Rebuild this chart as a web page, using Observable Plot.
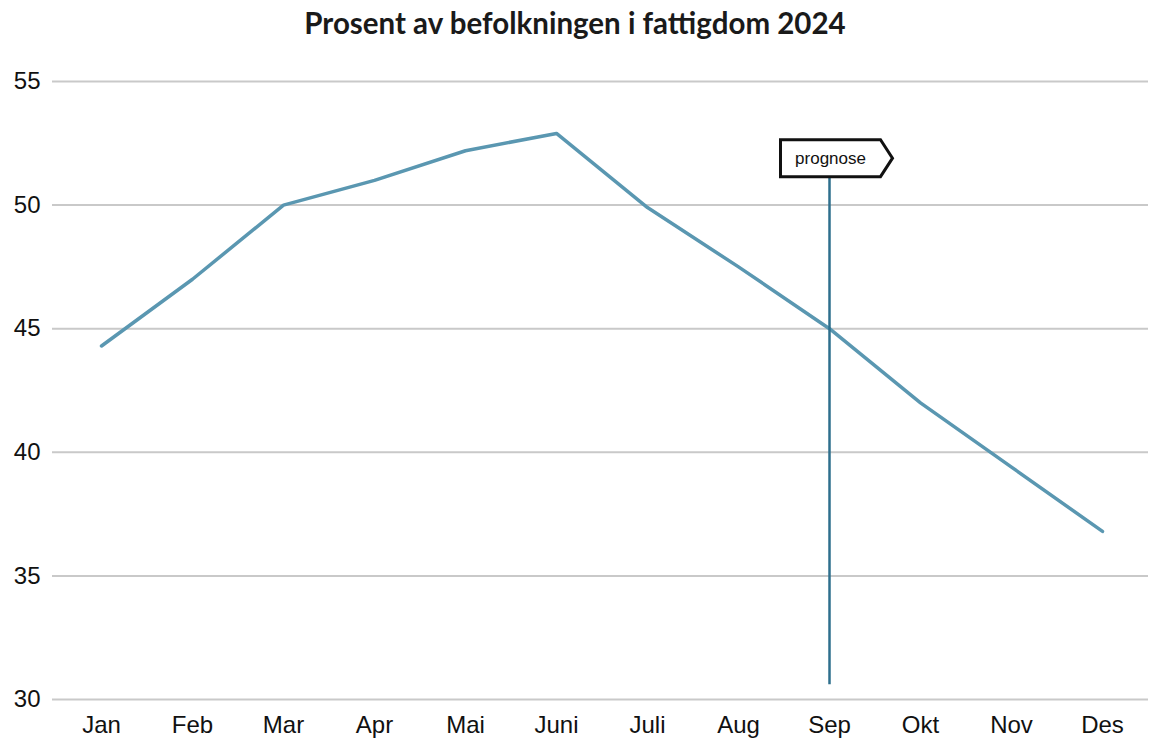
<!DOCTYPE html>
<html>
<head>
<meta charset="utf-8">
<script src="https://cdn.jsdelivr.net/npm/d3@7"></script>
<script src="https://cdn.jsdelivr.net/npm/@observablehq/plot@0.6"></script>
<style>
  html, body { margin: 0; padding: 0; background: #fff; }
  #title { height: 50px; line-height: 46px; text-align: center; font-family: Lato, "Open Sans", sans-serif; font-weight: 700; font-size: 29.5px; color: #1a1a1a; }
  #chart svg { display: block; }
</style>
</head>
<body>
<div id="title">Prosent av befolkningen i fattigdom 2024</div>
<div id="chart"></div>
<script>
const months = ["Jan","Feb","Mar","Apr","Mai","Juni","Juli","Aug","Sep","Okt","Nov","Des"];
const values = [44.3, 47.0, 50.0, 51.0, 52.2, 52.9, 49.9, 47.5, 45.0, 42.0, 39.4, 36.8];
const yTicks = [30, 35, 40, 45, 50, 55];
const forecastMonth = "Sep";
const forecastLabel = "prognose";
const forecastLine = {y1: 30.6, y2: 51.2};
const forecastLabelY = 51.9;

const data = months.map((m, i) => ({month: m, value: values[i]}));

const arrowSymbol = {
  draw(ctx) {
    ctx.moveTo(-49, -18.5);
    ctx.lineTo(51, -18.5);
    ctx.lineTo(63, 0);
    ctx.lineTo(51, 18.5);
    ctx.lineTo(-49, 18.5);
    ctx.closePath();
  }
};

const chart = Plot.plot({
  width: 1150,
  height: 690,
  marginTop: 31,
  marginBottom: 41,
  marginLeft: 52,
  marginRight: 2,
  style: {fontFamily: "'Liberation Sans', Arial, sans-serif", fontSize: "24px", color: "#111", background: "#fff"},
  x: {type: "point", domain: months, range: [98, 1105], padding: 0, label: null},
  y: {domain: [30, 55], label: null},
  marks: [
    Plot.ruleY(yTicks, {stroke: "#c9c9c9", strokeWidth: 2}),
    Plot.axisY({ticks: yTicks, tickSize: 0, tickPadding: 12, fontSize: 24, label: null}),
    Plot.axisX({tickSize: 0, tickPadding: 16, fontSize: 24, label: null}),
    Plot.line(data, {x: "month", y: "value", stroke: "#5a97b1", strokeWidth: 3.5, strokeLinejoin: "round", strokeLinecap: "round"}),
    Plot.ruleX([forecastMonth], {y1: forecastLine.y1, y2: forecastLine.y2, stroke: "#2e6f8d", strokeWidth: 2.5}),
    Plot.dot([forecastMonth], {x: d => d, y: () => forecastLabelY, symbol: arrowSymbol, r: 1, fill: "#fff", stroke: "#111", strokeWidth: 3}),
    Plot.text([forecastLabel], {x: () => forecastMonth, y: () => forecastLabelY, text: d => d, dx: 1, fontSize: 17, fill: "#111", fontFamily: "'Liberation Sans', Arial, sans-serif"})
  ]
});
document.getElementById("chart").appendChild(chart);
</script>
</body>
</html>
